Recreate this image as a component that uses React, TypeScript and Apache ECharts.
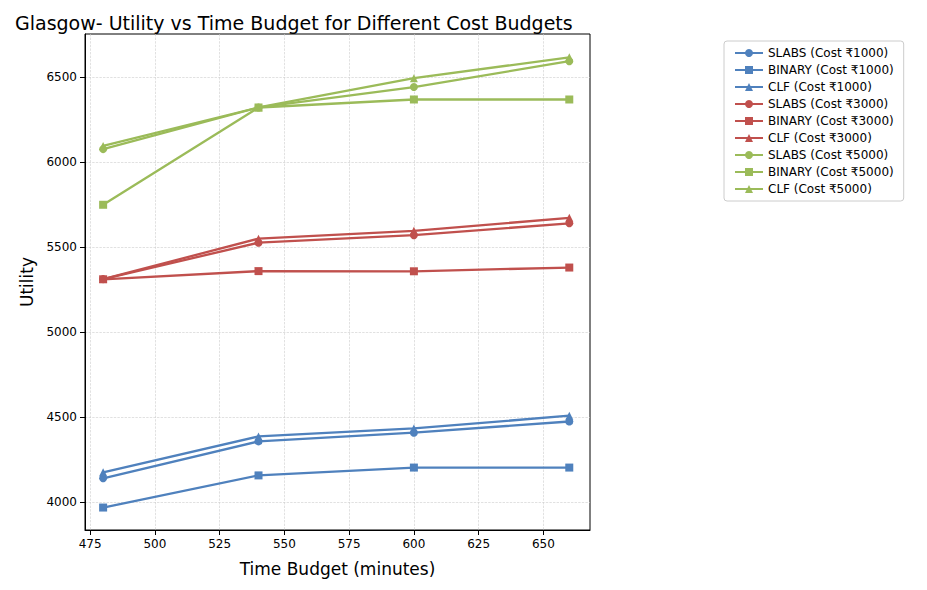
import React, { useEffect, useRef } from "react";
import * as echarts from "echarts";

const times = [480, 540, 600, 660];
const costs = ["₹1000", "₹3000", "₹5000"];
const colors = ["#4f81bd", "#c0504d", "#9bbb59"];
const xTicks = [475, 500, 525, 550, 575, 600, 625, 650];
const yTicks = [4000, 4500, 5000, 5500, 6000, 6500];
const slabs = [
  [4140, 4357, 4408, 4474],
  [5311, 5525, 5569, 5639],
  [6075, 6320, 6440, 6592],
];
const binary = [
  [3968, 4157, 4203, 4203],
  [5310, 5358, 5357, 5379],
  [5748, 6320, 6367, 6367],
];
const clf = [
  [4175, 4386, 4433, 4508],
  [5311, 5549, 5595, 5671],
  [6094, 6320, 6492, 6615],
];

export default function App() {
  const ref = useRef<HTMLDivElement>(null);
  useEffect(() => {
    const chart = echarts.init(ref.current!, null, { renderer: "svg" });
    const series: any[] = [];
    costs.forEach((c, i) => {
      const groups: [string, number[], string][] = [
        ["SLABS", slabs[i], "circle"],
        ["BINARY", binary[i], "rect"],
        ["CLF", clf[i], "triangle"],
      ];
      groups.forEach(([name, vals, sym]) => {
        series.push({
          name: `${name} (Cost ${c})`,
          type: "line",
          data: times.map((t, k) => [t, vals[k]]),
          symbol: sym,
          symbolSize: 8,
          lineStyle: { width: 2.3, color: colors[i] },
          itemStyle: { color: colors[i] },
        });
      });
    });
    const split = { show: true, lineStyle: { type: "dashed", color: "#ccc", width: 0.6 } };
    chart.setOption({
      animation: false,
      textStyle: { fontFamily: "DejaVu Sans" },
      title: {
        text: "Glasgow- Utility vs Time Budget for Different Cost Budgets",
        left: 2,
        top: 0,
        textStyle: { fontSize: 19, fontWeight: "normal", color: "#000" },
      },
      legend: {
        orient: "vertical",
        left: 716,
        top: 33,
        itemGap: 5,
        itemWidth: 28,
        itemHeight: 10,
        borderColor: "#ccc",
        borderWidth: 1,
        borderRadius: 3,
        padding: [6, 10],
        textStyle: { fontSize: 12, color: "#000" },
      },
      grid: { left: 77, right: 329, top: 26, bottom: 50, show: true, borderColor: "#000", borderWidth: 1 },
      xAxis: {
        type: "value",
        min: 473,
        max: 668,
        name: "Time Budget (minutes)",
        nameLocation: "middle",
        nameGap: 30,
        nameTextStyle: { fontSize: 17, color: "#000" },
        axisLine: { show: true, lineStyle: { color: "#000" } },
        axisTick: { show: true, customValues: xTicks },
        axisLabel: { color: "#000", fontSize: 12, customValues: xTicks, formatter: (v: number) => String(v) },
        splitLine: split,
      },
      yAxis: {
        type: "value",
        min: 3836,
        max: 6752,
        name: "Utility",
        nameLocation: "middle",
        nameGap: 50,
        nameTextStyle: { fontSize: 17, color: "#000" },
        axisLine: { show: true, lineStyle: { color: "#000" } },
        axisTick: { show: true, customValues: yTicks },
        axisLabel: { color: "#000", fontSize: 12, customValues: yTicks, formatter: (v: number) => String(v) },
        splitLine: split,
      },
      series,
    });
    return () => chart.dispose();
  }, []);
  return <div ref={ref} style={{ width: 911, height: 574 }} />;
}
